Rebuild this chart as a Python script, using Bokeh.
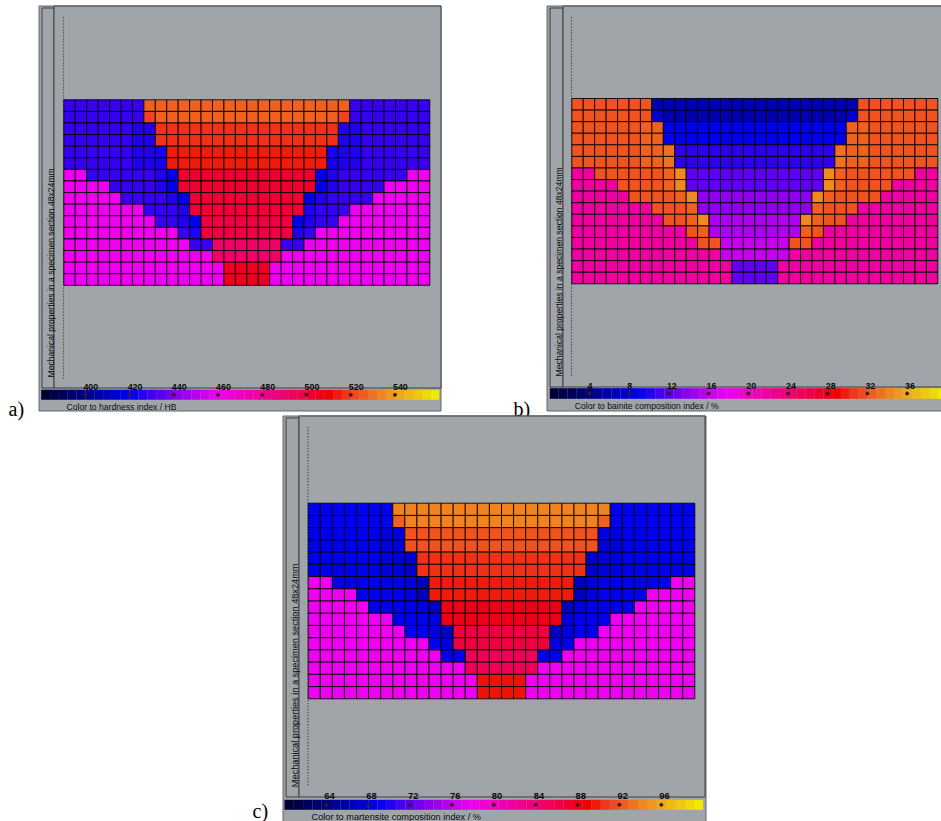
import numpy as np
from bokeh.plotting import figure
from bokeh.models import Range1d, ColumnDataSource, LinearColorMapper
from bokeh.core.properties import value
from bokeh.embed import file_html
from bokeh.resources import INLINE

# ---------------------------------------------------------------- data
N_COLS = 32          # 48 mm / 1.5 mm
N_ROWS = 16          # 24 mm / 1.5 mm
# zone code of every cell, left half of each row (right half is the mirror), row 0 = top
ZONE_ROWS_HALF = [
    "ooooooo000000000",
    "oooooooe00000000",
    "ooooooii11111111",
    "ooooooii11111111",
    "ooooooiij2222222",
    "ooooooiij2222222",
    "ppooooooit333333",
    "ppppooooit333333",
    "pppppooooit44444",
    "pppppppoooi44444",
    "ppppppppooit5555",
    "ppppppppppoi5555",
    "pppppppppppoo666",
    "ppppppppppppp666",
    "pppppppppppppp77",
    "pppppppppppppp77",
]
# values read per zone
HARDNESS_HB = {"o": 428.7, "i": 425.0, "j": 423.8, "t": 420.0, "p": 460.0, "e": 520.0,
               "0": 526.7, "1": 517.5, "2": 513.8, "3": 502.5, "4": 501.3, "5": 499.4,
               "6": 490.5, "7": 505.0}
BAINITE_PCT = {"o": 31.9, "i": 32.6, "j": 33.3, "t": 34.4, "p": 21.8, "e": 7.8,
               "0": 6.1, "1": 8.9, "2": 10.5, "3": 12.2, "4": 14.0, "5": 15.2,
               "6": 16.2, "7": 12.2}
MARTENSITE_PCT = {"o": 68.9, "i": 68.2, "j": 67.5, "t": 66.8, "p": 77.8, "e": 92.6,
                  "0": 94.1, "1": 91.9, "2": 90.6, "3": 89.8, "4": 88.0, "5": 86.7,
                  "6": 85.5, "7": 89.4}

HB_RANGE = (380, 560)
HB_TICKS = [400, 420, 440, 460, 480, 500, 520, 540]
BAINITE_RANGE = (0, 40)
BAINITE_TICKS = [4, 8, 12, 16, 20, 24, 28, 32, 36]
MARTENSITE_RANGE = (60, 100)
MARTENSITE_TICKS = [64, 68, 72, 76, 80, 84, 88, 92, 96]

SECTION_LABEL = "Mechanical properties in a specimen section 48x24mm"
TITLES = ["Color to hardness index / HB",
          "Color to bainite composition index / %",
          "Color to martensite composition index / %"]
TAGS = ["a)", "b)", "c)"]

# ---------------------------------------------------------------- styling
PALETTE_STOPS = [(0.0, "#000030"), (1 / 9, "#00008a"), (2 / 9, "#0000f0"), (3 / 9, "#8000f0"),
                 (4 / 9, "#f000f0"), (5 / 9, "#f00098"), (6 / 9, "#f00040"), (6.5 / 9, "#f00000"),
                 (7 / 9, "#f04020"), (8 / 9, "#f0a020"), (1.0, "#f0f000")]


def build_palette(stops, n=256):
    pos = [s[0] for s in stops]
    rgb = np.array([[int(c[1:3], 16), int(c[3:5], 16), int(c[5:7], 16)] for _, c in stops])
    t = np.linspace(0, 1, n)
    chans = [np.interp(t, pos, rgb[:, k]) for k in range(3)]
    return ["#%02x%02x%02x" % (int(round(r)), int(round(g)), int(round(b)))
            for r, g, b in zip(*chans)]


PALETTE = build_palette(PALETTE_STOPS)
BG = "#a0a5aa"
EDGE = "#62666a"
FRAME = "#3c3e40"
TXT = "#0a0a0a"
FONT = "Liberation Sans"

W, H = 941, 821

# pixel layout of each panel inside the figure (x to the right, y downwards)
LAYOUTS = [
    dict(outer=(38.5, 5.5, 440.5, 410.5), lbox=(41.5, 7.5, 53.5, 387.5), pbox=(53.5, 5.5, 440.5, 387.5),
         dotted=(63, 17, 378), grid=(63.3, 99.3, 429.3, 284.8), cbar=(40.7, 389.3, 438.7, 399.3),
         tick_y=386, title=(66, 406.5), vlab=(50.8, 377), tag=(8, 408), fs=8.6, tfs=8.9),
    dict(outer=(546.5, 5.5, 950, 410.5), lbox=(549.5, 7.5, 562.5, 386.5), pbox=(562.5, 5.5, 950, 386.5),
         dotted=(571, 17, 376), grid=(571.3, 98.0, 937.3, 283.3), cbar=(549.3, 387.7, 946.3, 398.3),
         tick_y=385, title=(574.3, 405.7), vlab=(558.8, 376), tag=(513, 408), fs=8.6, tfs=8.9),
    dict(outer=(282.5, 415.5, 705.5, 830), lbox=(285.5, 417.5, 298.5, 796.5), pbox=(298.5, 415.5, 704.5, 796.5),
         dotted=(307.5, 426.7, 786.7), grid=(307.7, 502.7, 694.3, 698.3), cbar=(284.0, 799.3, 702.7, 809.3),
         tick_y=795.5, title=(311, 816.0), vlab=(294.0, 786.7), tag=(252, 810.5), fs=9.2, tfs=9.4),
]

PANELS = [
    (HARDNESS_HB, HB_RANGE, HB_TICKS),
    (BAINITE_PCT, BAINITE_RANGE, BAINITE_TICKS),
    (MARTENSITE_PCT, MARTENSITE_RANGE, MARTENSITE_TICKS),
]


def x_range_for(d0, d1, p0, p1):
    k = (d1 - d0) / (p1 - p0)
    s = d0 - p0 * k
    return Range1d(start=s, end=s + W * k)


def y_range_for(d0, d1, p0, p1):
    k = (d1 - d0) / (p1 - p0)
    top = d0 - p0 * k
    return Range1d(start=top + H * k, end=top)


# cell table
cell_col, cell_row, cell_code = [], [], []
for r, half in enumerate(ZONE_ROWS_HALF):
    full = half + half[::-1]
    for c, code in enumerate(full):
        cell_col.append(c + 0.5)
        cell_row.append(r + 0.5)
        cell_code.append(code)

p = figure(width=W, height=H, x_range=Range1d(0, W), y_range=Range1d(H, 0),
           x_axis_type=None, y_axis_type=None, output_backend="svg",
           toolbar_location=None, min_border=0, outline_line_color=None,
           background_fill_color="white", border_fill_color="white")
p.grid.visible = False

for i, (vals, (lo, hi), ticks) in enumerate(PANELS):
    L = LAYOUTS[i]
    gname, cname = "g%d" % i, "c%d" % i
    gx0, gy0, gx1, gy1 = L["grid"]
    p.extra_x_ranges[gname] = x_range_for(0, N_COLS, gx0, gx1)
    p.extra_y_ranges[gname] = y_range_for(0, N_ROWS, gy0, gy1)
    cx0, cy0, cx1, cy1 = L["cbar"]
    p.extra_x_ranges[cname] = x_range_for(lo, hi, cx0, cx1)

    # panel frames
    o = L["outer"]
    p.quad(left=[o[0]], right=[o[2]], top=[o[1]], bottom=[o[3]], fill_color=BG, line_color=EDGE)
    b = L["lbox"]
    p.quad(left=[b[0]], right=[b[2]], top=[b[1]], bottom=[b[3]], fill_color=BG, line_color=FRAME)
    b = L["pbox"]
    p.quad(left=[b[0]], right=[b[2]], top=[b[1]], bottom=[b[3]], fill_color=BG, line_color=FRAME)
    dx, dy0, dy1 = L["dotted"]
    p.segment(x0=[dx], y0=[dy0], x1=[dx], y1=[dy1], line_color="#2c3034", line_width=1.2, line_dash="1 2")

    mapper = LinearColorMapper(palette=PALETTE, low=lo, high=hi)
    src = ColumnDataSource(dict(x=cell_col, y=cell_row, v=[vals[c] for c in cell_code]))
    p.rect(x="x", y="y", width=1, height=1, source=src,
           fill_color={"field": "v", "transform": mapper},
           line_color="black", line_width=1, line_alpha=0.85,
           x_range_name=gname, y_range_name=gname)

    # colour scale
    nblk = 45
    step = (hi - lo) / nblk
    centers = [lo + step * (k + 0.5) for k in range(nblk)]
    csrc = ColumnDataSource(dict(x=centers, v=centers))
    p.rect(x="x", y=(cy0 + cy1) / 2, width=step, height=cy1 - cy0, source=csrc,
           fill_color={"field": "v", "transform": mapper}, line_color=None,
           x_range_name=cname)
    p.scatter(x=ticks, y=[(cy0 + cy1) / 2] * len(ticks), size=3, color="#3a1c1c",
              x_range_name=cname)
    p.text(x=ticks, y=[L["tick_y"]] * len(ticks), text=[str(t) for t in ticks],
           x_offset=-2, text_align="left", text_baseline="alphabetic",
           text_font=value(FONT), text_font_style="bold", text_font_size="%.1fpx" % L["tfs"],
           text_color=TXT, x_range_name=cname)

    p.text(x=[L["title"][0]], y=[L["title"][1]], text=[TITLES[i]],
           text_align="left", text_baseline="alphabetic",
           text_font=value(FONT), text_font_size="%.1fpx" % L["fs"], text_color=TXT)
    p.text(x=[L["vlab"][0]], y=[L["vlab"][1]], text=[SECTION_LABEL], angle=np.pi / 2,
           text_align="left", text_baseline="alphabetic",
           text_font=value(FONT), text_font_size="%.1fpx" % L["fs"], text_color=TXT)
    p.text(x=[L["tag"][0]], y=[L["tag"][1]], text=[TAGS[i]],
           text_align="left", text_baseline="alphabetic",
           text_font=value("Liberation Serif"), text_font_size="20px", text_color="black")

open("out.html", "w").write(file_html(p, INLINE))
